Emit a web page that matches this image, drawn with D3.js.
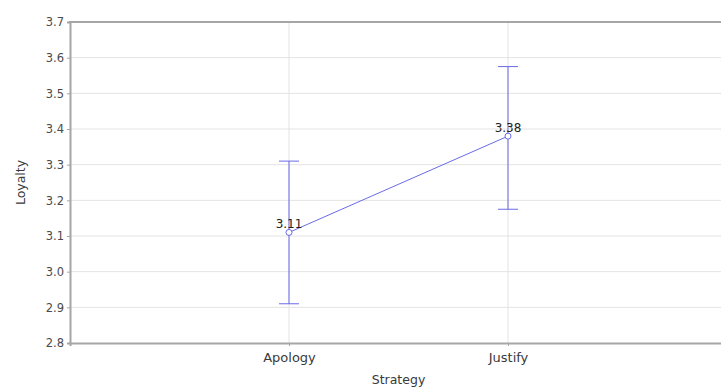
<!DOCTYPE html>
<html>
<head>
<meta charset="utf-8">
<script src="https://cdn.jsdelivr.net/npm/d3@7"></script>
<style>
  html, body { margin: 0; padding: 0; background: #fff; }
  svg { display: block; font-family: "DejaVu Sans", Verdana, sans-serif; }
</style>
</head>
<body>
<svg id="chart" width="721" height="388"></svg>
<script>
// Mean loyalty by response strategy, with 95% confidence limits
const strategies = ["Apology", "Justify"];
const means = [3.11, 3.38];
const lowerCI = [2.91, 3.175];
const upperCI = [3.31, 3.575];
const yTicks = [2.8, 2.9, 3.0, 3.1, 3.2, 3.3, 3.4, 3.5, 3.6, 3.7];

const svg = d3.select("#chart");
const margin = { left: 70, top: 22, bottom: 45 };
const H = 388;
const plotRight = 727;
const fontFamily = "'DejaVu Sans', Verdana, sans-serif";

// Categories sit at 1 and 2 on a 0..3 axis
const x = d3.scaleLinear().domain([0, strategies.length + 1]).range([margin.left, plotRight]);
const y = d3.scaleLinear().domain([2.8, 3.7]).range([H - margin.bottom, margin.top]);

const gridColor = "#e3e3e3";
const frameColor = "#a6a6a6";
const markColor = "#6a6ae8";
const textColor = "#3a3a3a";

// horizontal grid
svg.append("g").selectAll("line").data(yTicks.slice(1, -1)).join("line")
  .attr("x1", margin.left).attr("x2", plotRight)
  .attr("y1", d => y(d)).attr("y2", d => y(d))
  .attr("stroke", gridColor).attr("stroke-width", 1);

// vertical grid at categories
svg.append("g").selectAll("line").data(strategies).join("line")
  .attr("x1", (d, i) => x(i + 1)).attr("x2", (d, i) => x(i + 1))
  .attr("y1", y(3.7)).attr("y2", y(2.8))
  .attr("stroke", gridColor).attr("stroke-width", 1);

// y axis
const yAxis = svg.append("g").attr("transform", `translate(${margin.left},0)`)
  .call(d3.axisLeft(y).tickValues(yTicks).tickFormat(d3.format(".1f")).tickSize(3).tickPadding(3));
yAxis.select(".domain").attr("stroke", frameColor).attr("stroke-width", 2);
yAxis.selectAll(".tick line").attr("stroke", frameColor);
yAxis.selectAll("text").attr("font-size", 11.5).attr("fill", "#4a4a4a")
  .attr("font-family", fontFamily);

// x axis
const xAxis = svg.append("g").attr("transform", `translate(0,${y(2.8)})`)
  .call(d3.axisBottom(x).tickValues([1, 2]).tickFormat(d => strategies[d - 1]).tickSize(3).tickPadding(7));
xAxis.select(".domain").attr("stroke", frameColor).attr("stroke-width", 2);
xAxis.selectAll(".tick line").attr("stroke", frameColor);
xAxis.selectAll("text").attr("font-size", 13).attr("fill", textColor)
  .attr("font-family", fontFamily);

// top frame line
svg.append("line")
  .attr("x1", margin.left - 1).attr("x2", plotRight)
  .attr("y1", y(3.7)).attr("y2", y(3.7))
  .attr("stroke", frameColor).attr("stroke-width", 2);

// axis titles
svg.append("text")
  .attr("x", x(1.5)).attr("y", 384)
  .attr("text-anchor", "middle").attr("font-size", 12.5).attr("fill", textColor)
  .text("Strategy");
svg.append("text")
  .attr("transform", `translate(25,${(y(2.8) + y(3.7)) / 2}) rotate(-90)`)
  .attr("text-anchor", "middle").attr("font-size", 12.5).attr("fill", textColor)
  .text("Loyalty");

// error bars
const bars = svg.append("g").attr("stroke", markColor).attr("stroke-width", 1).attr("fill", "none");
strategies.forEach((s, i) => {
  const cx = x(i + 1);
  bars.append("line").attr("x1", cx).attr("x2", cx).attr("y1", y(lowerCI[i])).attr("y2", y(upperCI[i]));
  bars.append("line").attr("x1", cx - 10).attr("x2", cx + 10).attr("y1", y(lowerCI[i])).attr("y2", y(lowerCI[i]));
  bars.append("line").attr("x1", cx - 10).attr("x2", cx + 10).attr("y1", y(upperCI[i])).attr("y2", y(upperCI[i]));
});

// line through the means
svg.append("path")
  .datum(means)
  .attr("d", d3.line().x((d, i) => x(i + 1)).y(d => y(d)))
  .attr("stroke", markColor).attr("stroke-width", 1).attr("fill", "none");

// markers
svg.append("g").selectAll("circle").data(means).join("circle")
  .attr("cx", (d, i) => x(i + 1)).attr("cy", d => y(d)).attr("r", 3)
  .attr("fill", "#fff").attr("stroke", markColor).attr("stroke-width", 1);

// value labels
svg.append("g").selectAll("text").data(means).join("text")
  .attr("x", (d, i) => x(i + 1)).attr("y", d => y(d) - 4)
  .attr("text-anchor", "middle").attr("font-size", 12).attr("fill", "#222")
  .text(d => d.toFixed(2));
</script>
</body>
</html>
